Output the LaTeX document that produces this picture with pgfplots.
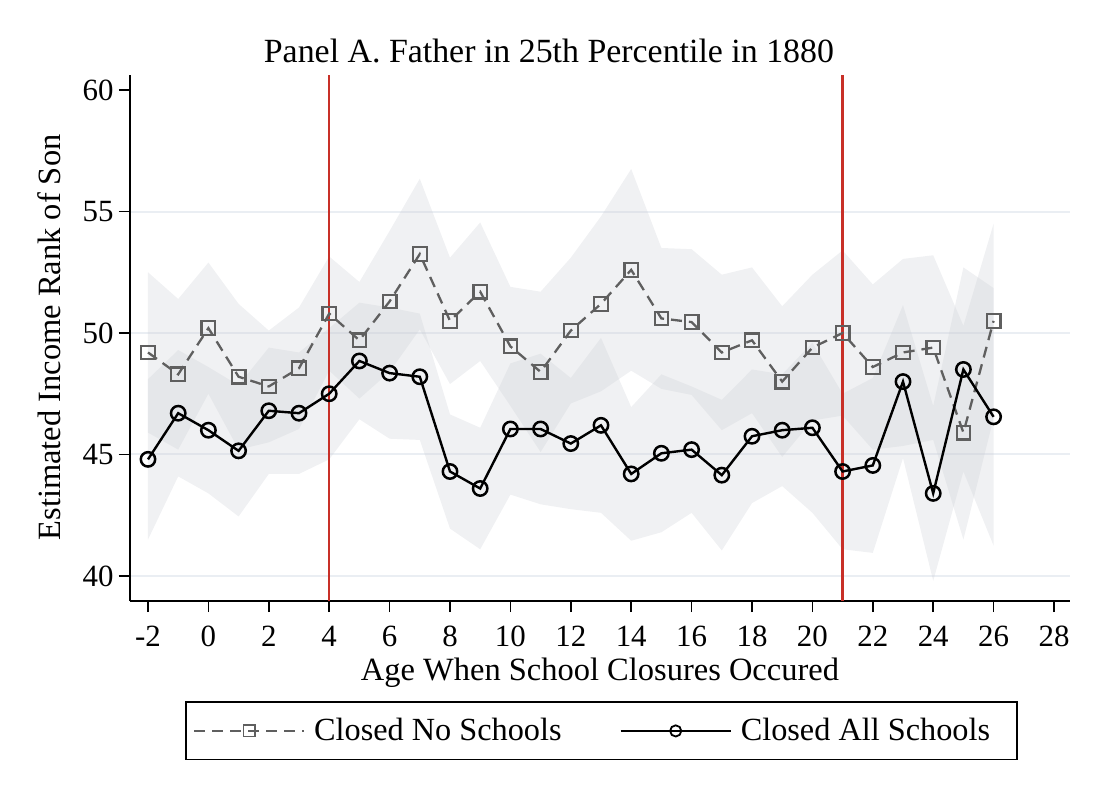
\documentclass[border=0pt]{standalone}
\usepackage{fontspec}
\setmainfont{Liberation Serif}
\usepackage{pgfplots}
\pgfplotsset{compat=1.18}
\usepgfplotslibrary{fillbetween}
\usepackage{pgfplotstable}

\definecolor{gridc}{RGB}{234,238,243}
\definecolor{redc}{RGB}{200,48,40}
\definecolor{bandc}{RGB}{205,208,214}
\definecolor{sqc}{RGB}{95,95,95}

\pgfplotstableread{
a   sq    sqlo   sqhi   ci     cilo   cihi
-2  49.2  45.9   52.5   44.8   41.5   48.1
-1  48.3  45.2   51.4   46.7   44.1   49.3
0   50.2  47.5   52.9   46.0   43.4   48.6
1   48.2  45.2   51.2   45.15  42.45  47.85
2   47.8  45.5   50.1   46.8   44.2   49.4
3   48.55 46.05  51.05  46.7   44.2   49.2
4   50.8  48.45  53.15  47.5   44.8   50.2
5   49.7  47.3   52.1   48.85  46.45  51.25
6   51.3  48.4   54.2   48.35  45.65  51.05
7   53.25 50.15  56.35  48.2   45.6   50.8
8   50.5  47.9   53.1   44.3   41.95  46.65
9   51.7  48.85  54.55  43.6   41.1   46.1
10  49.45 47.0   51.9   46.05  43.35  48.75
11  48.4  45.1   51.7   46.05  42.95  49.15
12  50.1  47.1   53.1   45.45  42.75  48.15
13  51.2  47.6   54.8   46.2   42.6   49.8
14  52.6  48.45  56.75  44.2   41.45  46.95
15  50.6  47.7   53.5   45.05  41.8   48.3
16  50.45 47.45  53.45  45.2   42.6   47.8
17  49.2  46.0   52.4   44.15  41.05  47.25
18  49.7  46.7   52.7   45.75  43.0   48.5
19  48.0  44.9   51.1   46.0   43.7   48.3
20  49.4  46.4   52.4   46.1   42.6   49.6
21  50.0  46.6   53.4   44.3   41.1   47.5
22  48.6  45.2   52.0   44.55  40.95  48.15
23  49.2  45.35  53.05  48.0   44.85  51.15
24  49.4  45.6   53.2   43.4   39.8   47.0
25  45.9  41.5   50.3   48.5   44.3   52.7
26  50.5  46.5   54.5   46.55  41.25  51.85
}\data

\begin{document}
\begin{tikzpicture}
\begin{axis}[
  at={(0,0)}, anchor=south west,
  scale only axis, width=470bp, height=263bp,
  xmin=-2.596, xmax=28.53, ymin=38.97, ymax=60.62,
  axis lines*=left,
  axis line style={line width=0.75bp, -},
  xtick={-2,0,2,4,6,8,10,12,14,16,18,20,22,24,26,28},
  xticklabels={-2,0,2,4,6,8,10,12,14,16,18,20,22,24,26,28},
  ytick={40,45,50,55,60},
  yticklabels={40,45,50,55,60},
  tick align=outside,
  major tick length=5.5bp,
  tick style={line width=0.75bp, black},
  extra y ticks={40,45,50,55},
  extra y tick labels={},
  extra y tick style={grid=major},
  major grid style={line width=1bp, color=gridc},
  tick label style={font=\fontsize{15.5}{17}\selectfont, inner sep=0pt},
  yticklabel style={anchor=east, xshift=-2.5bp},
  xticklabel style={anchor=north, yshift=-6.75bp},
  title={Panel A. Father in 25th Percentile in 1880},
  title style={at={(axis description cs:0.4457,1.0247)}, anchor=base, yshift=-6pt, font=\fontsize{17}{20}\selectfont, inner sep=0pt},
  xlabel={Age When School Closures Occured},
  xlabel style={at={(axis description cs:0.5,-0.1502)}, anchor=base, font=\fontsize{16.3}{19}\selectfont, inner sep=0pt},
  ylabel={Estimated Income Rank of Son},
  ylabel style={at={(axis description cs:-0.0735,0.501)}, anchor=base, rotate=0, font=\fontsize{16.3}{19}\selectfont, inner sep=0pt},
  legend columns=2,
  legend image code/.code={\draw[mark repeat=2,mark phase=2,#1] plot coordinates {(0bp,0bp) (27.5bp,0bp) (55bp,0bp)};},
  legend style={at={(axis description cs:0.5016,-0.247)}, anchor=center, draw=black, line width=0.75bp,
    font=\fontsize{16.2}{19}\selectfont, inner xsep=3.5bp, inner ysep=6bp,
    cells={anchor=west},
    /tikz/every odd column/.append style={column sep=2.5bp},
    /tikz/every even column/.append style={column sep=27bp}},
]
% reference lines
\addplot[redc, line width=1.15bp, forget plot] coordinates {(4,38.97) (4,60.62)};
\addplot[redc, line width=1.15bp, forget plot] coordinates {(21,38.97) (21,60.62)};
% confidence bands
\addplot[name path=squ, draw=none, forget plot] table[x=a,y=sqhi]{\data};
\addplot[name path=sql, draw=none, forget plot] table[x=a,y=sqlo]{\data};
\addplot[fill=bandc, fill opacity=0.3, draw=none, forget plot] fill between[of=squ and sql];
\addplot[name path=ciu, draw=none, forget plot] table[x=a,y=cihi]{\data};
\addplot[name path=cil, draw=none, forget plot] table[x=a,y=cilo]{\data};
\addplot[fill=bandc, fill opacity=0.3, draw=none, forget plot] fill between[of=ciu and cil];
% series
\addplot[sqc, line width=1.15bp, dash pattern=on 5.5bp off 3.5bp, mark=square, mark size=3.4bp,
  mark options={solid, line width=1.1bp}, forget plot] table[x=a,y=sq]{\data};
\addplot[black, line width=1.2bp, mark=o, mark size=3.6bp,
  mark options={solid, line width=1.25bp}, forget plot] table[x=a,y=ci]{\data};
% legend
\addlegendimage{sqc, line width=1.1bp, dash pattern=on 5.5bp off 3.5bp, mark=square, mark size=2.8bp, mark options={solid, line width=0.9bp}}
\addlegendentry{Closed No Schools}
\addlegendimage{black, line width=1.1bp, mark=o, mark size=2.8bp, mark options={solid, line width=0.9bp}}
\addlegendentry{Closed All Schools\hspace*{8bp}}
\end{axis}
\pgfresetboundingbox
\useasboundingbox (-65bp,-98.5bp) rectangle (485bp,300.5bp);
\end{tikzpicture}
\end{document}
